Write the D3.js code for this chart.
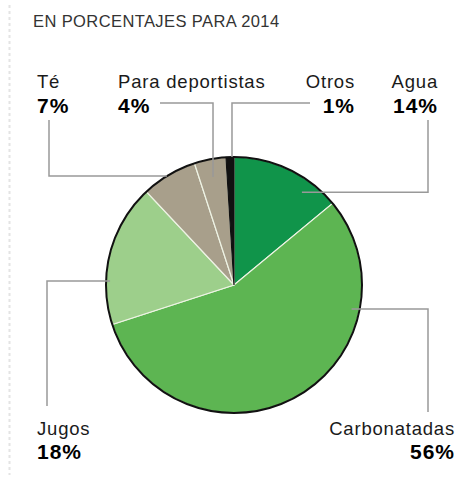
<!DOCTYPE html>
<html>
<head>
<meta charset="utf-8">
<script src="https://d3js.org/d3.v7.min.js"></script>
<style>
  body { margin: 0; background: #fff; }
  text { font-family: "Liberation Sans", Arial, sans-serif; }
</style>
</head>
<body>
<div id="chart"></div>
<script>
  // datos: bebidas en porcentajes para 2014
  const categories = ["Agua", "Carbonatadas", "Jugos", "Té", "Para deportistas", "Otros"];
  const values = [14, 56, 18, 7, 4, 1];
  const colors = ["#10944a", "#5db552", "#9dcf8b", "#a89f8b", "#a89f8b", "#111111"];
  const title = "EN PORCENTAJES PARA 2014";

  const w = 458;
  const h = 479;
  const cx = 234, cy = 285, radius = 128;

  // label placement (layout only)
  const labelPos = {
    "Té":               { x: 37,  anchor: "start", top: true,  sx: 49,  sy: 120, leg: "v", ang: 328.4, r: 128 },
    "Para deportistas": { x: 118, anchor: "start", top: true,  sx: 160, sy: 103, leg: "h", ang: 349,   r: 110 },
    "Otros":            { x: 355, anchor: "end",   top: true,  sx: 310, sy: 103, leg: "h", ang: 359.1, r: 128 },
    "Agua":             { x: 438, anchor: "end",   top: true,  sx: 428, sy: 120, leg: "v", ang: 36.2,  r: 115 },
    "Jugos":            { x: 37,  anchor: "start", top: false, sx: 47,  sy: 406, leg: "v", ang: 271.8, r: 124 },
    "Carbonatadas":     { x: 455, anchor: "end",   top: false, sx: 428, sy: 412, leg: "v", ang: 101.5, r: 120 }
  };

  const svg = d3.select("#chart").append("svg")
    .attr("width", w)
    .attr("height", h);

  // faint dotted rule on the left
  svg.append("line")
    .attr("x1", 9.5).attr("x2", 9.5)
    .attr("y1", 5).attr("y2", 475)
    .attr("stroke", "#e4e4e4")
    .attr("stroke-width", 2)
    .attr("stroke-dasharray", "3,3");

  svg.append("text")
    .attr("x", 33)
    .attr("y", 27)
    .attr("font-size", 16.5)
    .attr("letter-spacing", 0.4)
    .attr("fill", "#333")
    .text(title);

  const pie = d3.pie().sort(null).value(d => d);
  const arcs = pie(values);
  const arc = d3.arc().innerRadius(0).outerRadius(radius);

  const g = svg.append("g").attr("transform", "translate(" + cx + "," + cy + ")");

  g.selectAll("path.slice")
    .data(arcs)
    .enter()
    .append("path")
    .attr("class", "slice")
    .attr("d", arc)
    .attr("fill", (d, i) => colors[i])
    .attr("stroke", (d, i) => i === 5 ? "#111" : "#eef3e4")
    .attr("stroke-width", 1.2);

  g.append("circle")
    .attr("r", radius)
    .attr("fill", "none")
    .attr("stroke", "#111")
    .attr("stroke-width", 2);

  // leader lines
  function polar(ang, r) {
    const a = ang * Math.PI / 180;
    return [cx + r * Math.sin(a), cy - r * Math.cos(a)];
  }

  categories.forEach((name, i) => {
    const p = labelPos[name];
    const end = polar(p.ang, p.r);
    let pts;
    if (p.leg === "v") {
      pts = [[p.sx, p.sy], [p.sx, end[1]], end];
    } else {
      pts = [[p.sx, p.sy], [end[0], p.sy], end];
    }
    svg.append("path")
      .attr("d", d3.line()(pts))
      .attr("fill", "none")
      .attr("stroke", "#999")
      .attr("stroke-width", 1.5);

    const y1 = p.top ? 88 : 435;
    const y2 = p.top ? 113 : 459;
    svg.append("text")
      .attr("x", p.x)
      .attr("y", y1)
      .attr("text-anchor", p.anchor)
      .attr("font-size", 18.5)
      .attr("letter-spacing", 0.8)
      .attr("fill", "#1a1a1a")
      .text(name);
    svg.append("text")
      .attr("x", p.x)
      .attr("y", y2)
      .attr("text-anchor", p.anchor)
      .attr("font-size", 21)
      .attr("font-weight", "bold")
      .attr("letter-spacing", 1)
      .attr("fill", "#000")
      .text(values[i] + "%");
  });
</script>
</body>
</html>
